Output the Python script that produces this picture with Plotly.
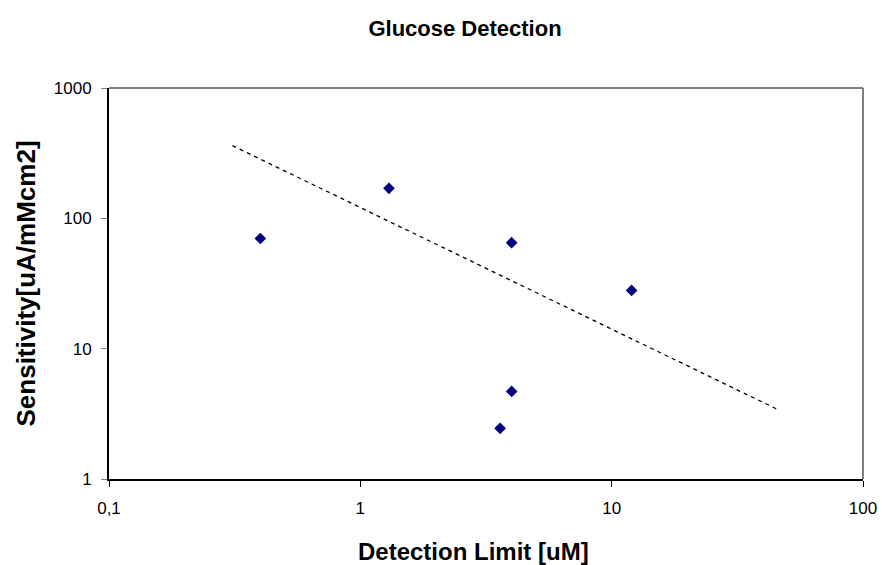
import plotly.graph_objects as go

# Data
detection_limit = [0.4, 1.3, 4.0, 12.0, 4.0, 3.6]          # uM
sensitivity = [70, 170, 65, 28, 4.7, 2.45]                   # uA/mMcm2
trend_x = [0.31, 46.0]
trend_y = [361, 3.4]

x_tickvals = [0.1, 1, 10, 100]
x_ticktext = ["0,1", "1", "10", "100"]
y_tickvals = [1, 10, 100, 1000]
y_ticktext = ["1", "10", "100", "1000"]

FONT = "Liberation Sans, Arial, Helvetica, sans-serif"

fig = go.Figure()
fig.add_trace(go.Scatter(
    x=trend_x, y=trend_y, mode="lines",
    line=dict(color="black", width=1.3, dash="4px,4px"),
    showlegend=False, hoverinfo="skip"))
fig.add_trace(go.Scatter(
    x=detection_limit, y=sensitivity, mode="markers",
    marker=dict(symbol="diamond", size=9, color="#000080"),
    showlegend=False))

fig.update_layout(
    width=882, height=565,
    margin=dict(l=109, r=19, t=88, b=86, autoexpand=False),
    paper_bgcolor="white", plot_bgcolor="white",
    font=dict(family=FONT, color="black"),
    title=dict(text="<b>Glucose Detection</b>", xref="container",
               x=465 / 882, xanchor="center",
               y=1 - 28 / 565, yanchor="middle",
               font=dict(size=22, family=FONT, color="black")),
    shapes=[
        dict(type="line", xref="paper", yref="paper", x0=0, x1=1, y0=1, y1=1,
             line=dict(color="#808080", width=2)),
        dict(type="line", xref="paper", yref="paper", x0=1, x1=1, y0=0, y1=1,
             line=dict(color="#808080", width=2)),
    ],
    annotations=[
        dict(text="<b>Detection Limit [uM]</b>", xref="paper", yref="paper",
             x=(473 - 109) / 754, y=(479 - 551) / 391,
             xanchor="center", yanchor="middle", showarrow=False,
             font=dict(size=24, family=FONT, color="black")),
        dict(text="<b>Sensitivity[uA/mMcm2]</b>", xref="paper", yref="paper",
             x=(25 - 109) / 754, y=0.5, textangle=-90,
             xanchor="center", yanchor="middle", showarrow=False,
             font=dict(size=26, family=FONT, color="black")),
    ],
)
fig.update_xaxes(
    type="log", range=[-1, 2], automargin=False,
    tickvals=x_tickvals, ticktext=x_ticktext,
    showgrid=False, zeroline=False,
    showline=True, linecolor="black", linewidth=2,
    ticks="outside", ticklen=6, tickcolor="black", tickwidth=1,
    ticklabelstandoff=7,
    tickfont=dict(size=17, family=FONT, color="black"),
)
fig.update_yaxes(
    type="log", range=[0, 3], automargin=False,
    tickvals=y_tickvals, ticktext=y_ticktext,
    showgrid=False, zeroline=False,
    showline=True, linecolor="black", linewidth=2,
    ticks="outside", ticklen=6, tickcolor="#808080", tickwidth=1,
    ticklabelstandoff=6,
    tickfont=dict(size=17, family=FONT, color="black"),
)

fig.write_html("out.html")
